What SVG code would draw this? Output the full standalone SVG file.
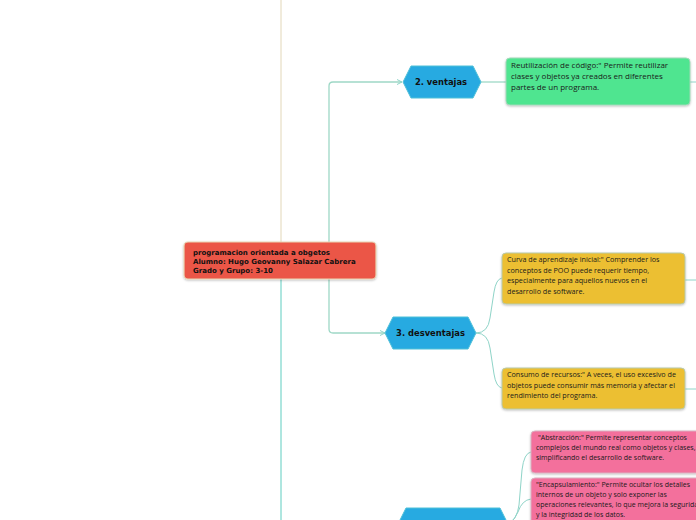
<svg xmlns="http://www.w3.org/2000/svg" width="696" height="520" viewBox="0 0 696 520">
<defs>
<style>
.conn{fill:none;stroke:#9ed8c6;stroke-width:1.3}
.sub{fill:none;stroke:#8fd4c8;stroke-width:1}
.t{font-family:"Open Sans","Liberation Sans",sans-serif;fill:#1a1a1a}
.hex{fill:#27aae1;stroke:#4fc0d8;stroke-width:1}
.hl{font-family:"DejaVu Sans","Liberation Sans",sans-serif;font-weight:bold;font-size:8.4px;fill:#111}
.box{stroke-width:1}
</style>
<filter id="sh" x="-10%" y="-10%" width="120%" height="130%">
<feDropShadow dx="0" dy="1" stdDeviation="1" flood-color="#000" flood-opacity="0.25"/>
</filter>
<marker id="arr" viewBox="0 0 6 6" refX="5" refY="3" markerWidth="6" markerHeight="6" orient="auto" markerUnits="userSpaceOnUse">
<path d="M0,0.5 L5,3 L0,5.5" fill="none" stroke="#8fd4c8" stroke-width="1"/>
</marker>
</defs>
<rect width="696" height="520" fill="#ffffff"/>
<g id="connectors">
<line x1="281" y1="0" x2="281" y2="242" stroke="#e2d7b8" stroke-width="1"/>
<line x1="281" y1="279" x2="281" y2="520" stroke="#5fcdc0" stroke-width="1"/>
<path class="conn" d="M329,242 V86 Q329,82 333,82 H402" marker-end="url(#arr)"/>
<path class="conn" d="M329,279 V329 Q329,333 333,333 H385" marker-end="url(#arr)"/>
<line class="conn" x1="481" y1="82" x2="506" y2="82"/>
<line class="sub" x1="690" y1="82" x2="696" y2="82"/>
<path class="sub" d="M476,333 Q488,333 490,318 L494,292 Q496,279 502,278"/>
<path class="sub" d="M476,333 Q488,333 490,348 L494,374 Q496,387 502,388"/>
<line class="sub" x1="685" y1="280" x2="696" y2="280"/>
<line class="sub" x1="685" y1="389" x2="696" y2="389"/>
<path class="sub" d="M508,524 Q517,520 519,505 L522,470 Q524,453 531,452"/>
<path class="sub" d="M508,524 Q515,520 518,512 Q522,500 531,499"/>
</g>
<g id="central">
<rect x="184" y="242" width="192" height="37" rx="4" fill="#eb5646" stroke="#e9d6b5" stroke-width="1.2" filter="url(#sh)"/>
<text x="193" y="255" font-family="DejaVu Sans,sans-serif" font-weight="bold" font-size="7" fill="#111">programacion orientada a obgetos</text>
<text x="193" y="264" font-family="DejaVu Sans,sans-serif" font-weight="bold" font-size="7" fill="#111">Alumno: Hugo Geovanny Salazar Cabrera</text>
<text x="193" y="273" font-family="DejaVu Sans,sans-serif" font-weight="bold" font-size="7" fill="#111">Grado y Grupo: 3-10</text>
</g>
<g id="ventajas">
<polygon class="hex" points="403,82 411,66 473,66 481,82 473,98 411,98"/>
<text class="hl" x="441" y="85" text-anchor="middle">2. ventajas</text>
</g>
<g id="reutilizacion">
<rect class="box" x="506" y="58" width="184" height="47" rx="4" fill="#50e590" stroke="#9fd9b8" filter="url(#sh)"/>
<text class="t" font-size="8"><tspan x="511" y="68">Reutilización de código:" Permite reutilizar</tspan><tspan x="511" y="79">clases y objetos ya creados en diferentes</tspan><tspan x="511" y="90">partes de un programa.</tspan></text>
</g>
<g id="desventajas">
<polygon class="hex" points="385,333 393,317 468,317 476,333 468,349 393,349"/>
<text class="hl" x="430.5" y="336" text-anchor="middle">3. desventajas</text>
</g>
<g id="curva">
<rect class="box" x="502" y="253" width="183" height="51" rx="4" fill="#ecbf30" stroke="#b9c9a8" filter="url(#sh)"/>
<text class="t" font-size="7.2"><tspan x="507" y="262">Curva de aprendizaje inicial:" Comprender los</tspan><tspan x="507" y="272.5">conceptos de POO puede requerir tiempo,</tspan><tspan x="507" y="283">especialmente para aquellos nuevos en el</tspan><tspan x="507" y="293.5">desarrollo de software.</tspan></text>
</g>
<g id="consumo">
<rect class="box" x="502" y="368" width="183" height="41" rx="4" fill="#ecbf30" stroke="#b9c9a8" filter="url(#sh)"/>
<text class="t" font-size="7.2"><tspan x="507" y="377">Consumo de recursos:" A veces, el uso excesivo de</tspan><tspan x="507" y="387.5">objetos puede consumir más memoria y afectar el</tspan><tspan x="507" y="398">rendimiento del programa.</tspan></text>
</g>
<g id="caracteristicas">
<polygon class="hex" points="406,508 500,508 508,524 500,540 406,540 398,524"/>
</g>
<g id="abstraccion">
<rect class="box" x="531" y="431" width="175" height="42" rx="4" fill="#f3709c" stroke="#d9b0c0" filter="url(#sh)"/>
<text class="t" font-size="7"><tspan x="538" y="440">"Abstracción:" Permite representar conceptos</tspan><tspan x="536" y="450">complejos del mundo real como objetos y clases,</tspan><tspan x="536" y="460">simplificando el desarrollo de software.</tspan></text>
</g>
<g id="encapsulamiento">
<rect class="box" x="531" y="478" width="175" height="50" rx="4" fill="#f3709c" stroke="#d9b0c0" filter="url(#sh)"/>
<text class="t" font-size="7"><tspan x="536" y="487">"Encapsulamiento:" Permite ocultar los detalles</tspan><tspan x="536" y="497">internos de un objeto y solo exponer las</tspan><tspan x="536" y="507">operaciones relevantes, lo que mejora la seguridad</tspan><tspan x="536" y="517">y la integridad de los datos.</tspan></text>
</g>
</svg>
